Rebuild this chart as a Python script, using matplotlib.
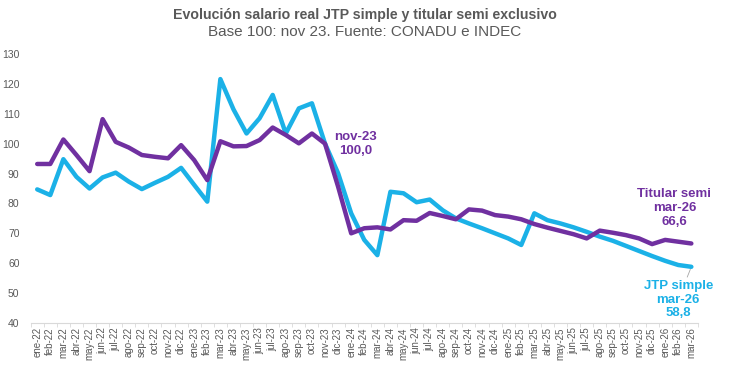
import matplotlib
matplotlib.use("Agg")
import matplotlib.pyplot as plt
import numpy as np

plt.rcParams['font.family'] = ['Liberation Sans', 'DejaVu Sans']

# Meses ene-22 .. mar-26
meses = ["ene", "feb", "mar", "abr", "may", "jun", "jul", "ago", "sep", "oct", "nov", "dic"]
labels = []
for yr in [22, 23, 24, 25, 26]:
    for m in meses:
        labels.append(f"{m}-{yr}")
labels = labels[:51]

jtp_simple = [84.7, 82.8, 94.8, 88.9, 85.0, 88.7, 90.3, 87.3, 84.8, 86.9,
              88.9, 91.9, 86.2, 80.6, 121.6, 111.5, 103.4, 108.5, 116.3, 103.4,
              111.8, 113.5, 100.0, 90.1, 76.7, 67.8, 62.7, 83.9, 83.4, 80.4,
              81.3, 77.7, 75.0, 73.3, 71.7, 70.0, 68.3, 66.1, 76.7, 74.4,
              73.3, 72.0, 70.5, 68.9, 67.5, 65.8, 64.1, 62.4, 60.8, 59.4,
              58.8]
titular_semi = [93.2, 93.2, 101.4, 96.2, 90.8, 108.2, 100.6, 98.7, 96.2, 95.6,
                95.1, 99.5, 94.5, 87.8, 100.8, 99.1, 99.2, 101.2, 105.4, 102.9,
                100.1, 103.4, 100.0, 85.6, 70.0, 71.7, 72.0, 71.3, 74.4, 74.2,
                76.8, 75.8, 74.7, 78.0, 77.6, 76.1, 75.6, 74.7, 73.1, 71.9,
                70.8, 69.7, 68.3, 70.9, 70.2, 69.4, 68.3, 66.4, 67.8, 67.2,
                66.6]

cyan = "#1BB1E7"
purple = "#7030A0"
gray = "#595959"

fig = plt.figure(figsize=(7.3, 3.66), dpi=100)
ax = fig.add_axes([0.042, 0.1175, 0.914, 0.735])

x = np.arange(len(labels))
ax.plot(x, jtp_simple, color=cyan, lw=3.2, solid_joinstyle='round', solid_capstyle='round', zorder=3)
ax.plot(x, titular_semi, color=purple, lw=3.2, solid_joinstyle='round', solid_capstyle='round', zorder=4)

ax.set_xlim(-0.5, len(labels) - 0.5)
ax.set_ylim(40, 130)
ax.set_yticks(range(40, 131, 10))
ax.set_xticks(x)
ax.set_xticklabels(labels, rotation=90, fontsize=7, color=gray)
ax.set_xticks(np.arange(-0.5, len(labels), 1), minor=True)
ax.tick_params(axis='x', which='major', length=0, pad=3)
ax.tick_params(axis='x', which='minor', length=3, color="#D9D9D9")
ax.tick_params(axis='y', length=0, labelsize=7.5, labelcolor=gray, pad=8)
for s in ['top', 'right', 'left']:
    ax.spines[s].set_visible(False)
ax.spines['bottom'].set_color("#D9D9D9")

# Anotaciones
i_nov = labels.index("nov-23")
ax.annotate(f"nov-23\n{titular_semi[i_nov]:.1f}".replace('.', ','),
            xy=(i_nov + 2.35, 99.8), ha='center', va='center',
            fontsize=9.5, fontweight='bold', color=purple, linespacing=1.2)
last = len(labels) - 1
ax.annotate(f"Titular semi\nmar-26\n{titular_semi[last]:.1f}".replace('.', ','),
            xy=(last - 1.3, 78.4), ha='center', va='center',
            fontsize=9.5, fontweight='bold', color=purple, linespacing=1.2)
ax.annotate(f"JTP simple\nmar-26\n{jtp_simple[last]:.1f}".replace('.', ','),
            xy=(last, jtp_simple[last]), xytext=(last - 1.0, 47.8),
            ha='center', va='center', fontsize=9.5, fontweight='bold', color=cyan,
            linespacing=1.2,
            arrowprops=dict(arrowstyle='-', color="#A6A6A6", lw=0.6,
                            shrinkA=21, shrinkB=2))

fig.text(0.5, 0.959, "Evolución salario real JTP simple y titular semi exclusivo",
         ha='center', va='center', fontsize=10.2, fontweight='bold', color=gray)
fig.text(0.5, 0.9126, "Base 100: nov 23. Fuente: CONADU e INDEC",
         ha='center', va='center', fontsize=11.0, color=gray)

fig.savefig("out.png", dpi=100)
